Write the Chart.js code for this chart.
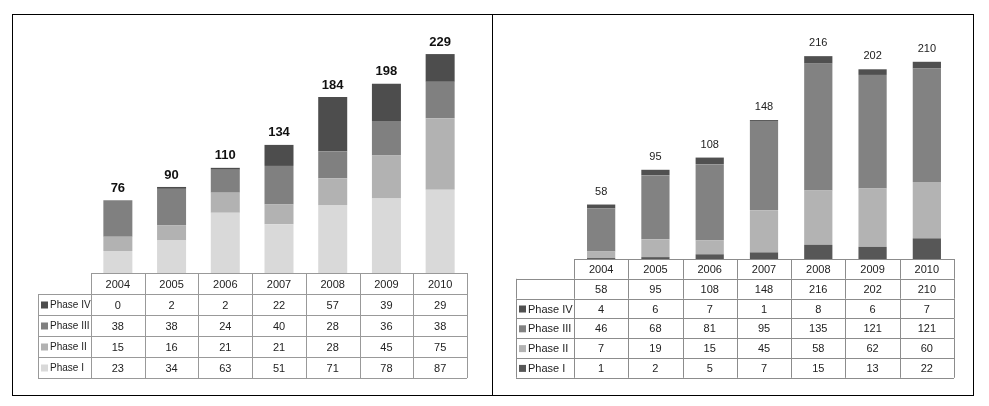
<!DOCTYPE html>
<html>
<head>
<meta charset="utf-8">
<script src="https://cdn.jsdelivr.net/npm/chart.js@4/dist/chart.umd.min.js"></script>
<style>
  body { margin: 0; background: #fff; }
  #frame { position: absolute; left: 12px; top: 14px; width: 962px; height: 382px; border: 1px solid #000; box-sizing: border-box; }
  #divider { position: absolute; left: 492px; top: 14px; width: 1px; height: 382px; background: #000; }
  .box { position: absolute; top: 15px; height: 380px; }
  #leftBox { left: 13px; width: 478px; }
  #rightBox { left: 493px; width: 479px; }
</style>
</head>
<body>
<div id="frame"></div>
<div id="divider"></div>
<div class="box" id="leftBox"><canvas id="leftChart"></canvas></div>
<div class="box" id="rightBox"><canvas id="rightChart"></canvas></div>
<script>
const years = ['2004', '2005', '2006', '2007', '2008', '2009', '2010']

// left chart
const leftPhase1 = [23, 34, 63, 51, 71, 78, 87]
const leftPhase2 = [15, 16, 21, 21, 28, 45, 75]
const leftPhase3 = [38, 38, 24, 40, 28, 36, 38]
const leftPhase4 = [0, 2, 2, 22, 57, 39, 29]
const leftNames = ['Phase I', 'Phase II', 'Phase III', 'Phase IV']
const leftColors = ['#d9d9d9', '#b2b2b2', '#808080', '#4d4d4d']

// right chart
const rightPhase1 = [1, 2, 5, 7, 15, 13, 22]
const rightPhase2 = [7, 19, 15, 45, 58, 62, 60]
const rightPhase3 = [46, 68, 81, 95, 135, 121, 121]
const rightPhase4 = [4, 6, 7, 1, 8, 6, 7]
const rightNames = ['Phase I', 'Phase II', 'Phase III', 'Phase IV']
const rightColors = ['#575757', '#b3b3b3', '#828282', '#505050']

function totals(series) {
  return years.map((y, i) => series.reduce((s, arr) => s + arr[i], 0))
}

// draws the total above each bar and the data table under the plot
function tablePlugin(cfg) {
  return {
    id: 'dataTable',
    afterDatasetsDraw(chart) {
      const ctx = chart.ctx
      const x = chart.scales.x
      const area = chart.chartArea
      const colW = (area.right - area.left) / years.length
      const sums = totals(cfg.series)

      ctx.save()
      ctx.textAlign = 'center'
      ctx.textBaseline = 'middle'
      ctx.fillStyle = cfg.labelColor
      ctx.font = cfg.labelFont
      sums.forEach((v, i) => {
        let top = chart.scales.y.getPixelForValue(v)
        ctx.fillText(String(v), x.getPixelForTick(i), top - cfg.labelGap)
      })

      // rows: header, (totals), phases from top down
      let rows = [{ name: null, vals: years, legend: false }]
      if (cfg.totalsRow) rows.push({ name: '', vals: sums, legend: true, color: null })
      for (let k = cfg.series.length - 1; k >= 0; k--) {
        rows.push({ name: cfg.names[k], vals: cfg.series[k], legend: true, color: cfg.colors[k] })
      }

      let y0 = area.bottom
      const rh = cfg.rowH
      ctx.strokeStyle = cfg.lineColor
      ctx.lineWidth = 1
      rows.forEach((r, ri) => {
        let top = y0 + ri * rh
        let bottom = top + rh
        let left = r.legend ? cfg.legendLeft : area.left
        ctx.beginPath()
        ctx.moveTo(left, Math.round(top) + 0.5)
        ctx.lineTo(area.right, Math.round(top) + 0.5)
        ctx.moveTo(left, Math.round(bottom) + 0.5)
        ctx.lineTo(area.right, Math.round(bottom) + 0.5)
        for (let c = 0; c <= years.length; c++) {
          let cx = Math.round(area.left + c * colW) + 0.5
          ctx.moveTo(cx, top)
          ctx.lineTo(cx, bottom)
        }
        if (r.legend) {
          ctx.moveTo(cfg.legendLeft + 0.5, top)
          ctx.lineTo(cfg.legendLeft + 0.5, bottom)
        }
        ctx.stroke()

        ctx.font = cfg.tableFont
        ctx.fillStyle = cfg.textColor
        ctx.textAlign = 'center'
        r.vals.forEach((v, i) => {
          ctx.fillText(String(v), x.getPixelForTick(i), top + rh / 2 + 1)
        })
        if (r.legend && r.color) {
          ctx.fillStyle = r.color
          ctx.fillRect(cfg.legendLeft + 3, top + rh / 2 - 3, 7, 7)
          ctx.fillStyle = cfg.textColor
          ctx.textAlign = 'left'
          ctx.font = cfg.legendFont
          ctx.fillText(r.name, cfg.legendLeft + 12, top + rh / 2 + 1)
        }
      })
      ctx.restore()
    }
  }
}

function createGraph(id, cfg) {
  new Chart(document.getElementById(id), {
    type: 'bar',
    data: {
      labels: years,
      datasets: cfg.series.map((s, k) => ({
        label: cfg.names[k],
        data: s,
        backgroundColor: cfg.colors[k],
        borderWidth: 0,
        barPercentage: cfg.barPct,
        categoryPercentage: 1
      }))
    },
    options: {
      responsive: true,
      maintainAspectRatio: false,
      animation: false,
      layout: { padding: cfg.padding },
      plugins: { legend: { display: false }, tooltip: { enabled: false } },
      scales: {
        x: { stacked: true, display: false },
        y: { stacked: true, display: false, min: 0, max: cfg.yMax }
      }
    },
    plugins: [tablePlugin(cfg)]
  })
}

createGraph('leftChart', {
  series: [leftPhase1, leftPhase2, leftPhase3, leftPhase4],
  names: leftNames,
  colors: leftColors,
  yMax: 250,
  barPct: 0.54,
  padding: { left: 78, right: 24, top: 19, bottom: 122 },
  rowH: 21,
  legendLeft: 25,
  totalsRow: false,
  labelFont: "bold 13px 'Liberation Sans'",
  labelColor: '#111',
  labelGap: 12,
  tableFont: "11px 'Liberation Sans'",
  legendFont: "10px 'Liberation Sans'",
  textColor: '#222',
  lineColor: '#999'
})

createGraph('rightChart', {
  series: [rightPhase1, rightPhase2, rightPhase3, rightPhase4],
  names: rightNames,
  colors: rightColors,
  yMax: 230,
  barPct: 0.52,
  padding: { left: 81, right: 18, top: 28, bottom: 136 },
  rowH: 19.8,
  legendLeft: 23,
  totalsRow: true,
  labelFont: "11px 'Liberation Sans'",
  labelColor: '#222',
  labelGap: 13,
  tableFont: "11px 'Liberation Sans'",
  legendFont: "11px 'Liberation Sans'",
  textColor: '#222',
  lineColor: '#8c8c8c'
})
</script>
</body>
</html>
